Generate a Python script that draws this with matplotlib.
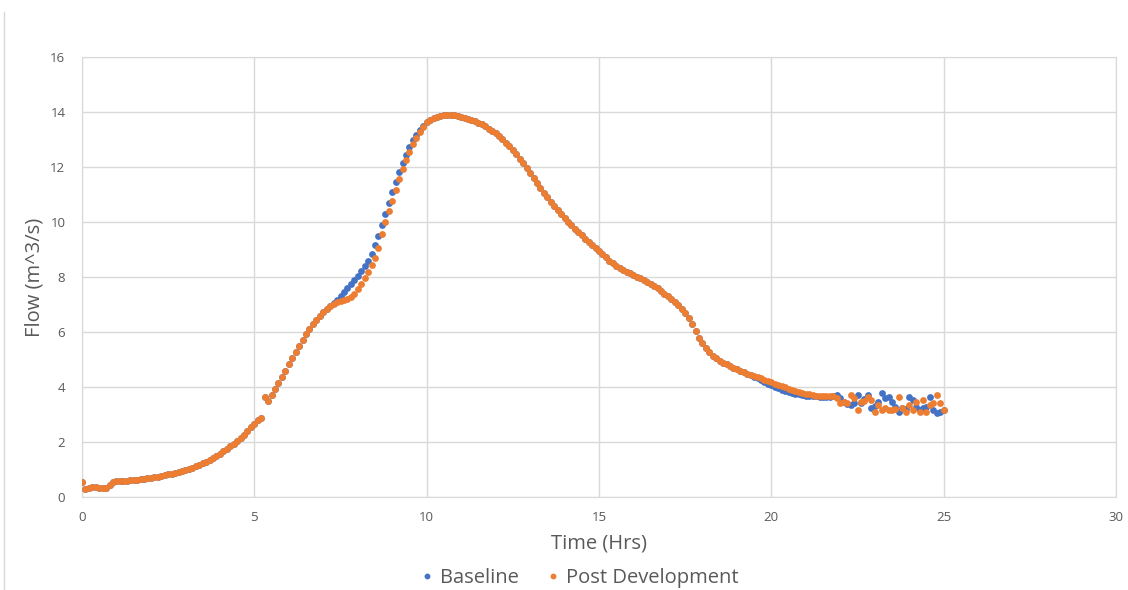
import numpy as np
import matplotlib
matplotlib.use("Agg")
import matplotlib.pyplot as plt
from matplotlib.lines import Line2D

# time axis: every 0.1 hr from 0 to 25
time_hrs = np.round(np.arange(0, 251) * 0.1, 1)

# 0.0 - 7.2 hr, both runs identical
shared_rise = [
    0.55, 0.30, 0.34, 0.35, 0.35, 0.34, 0.31, 0.31, 0.42, 0.53,
    0.58, 0.59, 0.60, 0.60, 0.61, 0.62, 0.63, 0.64, 0.66, 0.68,
    0.70, 0.72, 0.74, 0.76, 0.79, 0.82, 0.85, 0.88, 0.91, 0.94,
    0.98, 1.02, 1.06, 1.11, 1.16, 1.22, 1.28, 1.35, 1.42, 1.50,
    1.58, 1.66, 1.75, 1.84, 1.94, 2.04, 2.15, 2.27, 2.40, 2.53,
    2.67, 2.80, 2.86, 3.65, 3.50, 3.70, 3.92, 4.14, 4.37, 4.60,
    4.83, 5.05, 5.27, 5.49, 5.70, 5.91, 6.11, 6.29, 6.45, 6.60,
    6.74, 6.85, 6.94,
]

# 7.3 - 9.9 hr
baseline_mid = [
    7.05, 7.18, 7.32, 7.46, 7.60, 7.75, 7.90, 8.05, 8.22, 8.40,
    8.60, 8.85, 9.15, 9.50, 9.90, 10.30, 10.70, 11.08, 11.45, 11.82,
    12.15, 12.45, 12.73, 12.98, 13.18, 13.36, 13.50,
]
post_mid = [
    7.02, 7.08, 7.12, 7.16, 7.20, 7.26, 7.38, 7.55, 7.75, 7.95,
    8.20, 8.45, 8.70, 9.05, 9.55, 10.00, 10.40, 10.78, 11.15, 11.55,
    11.92, 12.25, 12.55, 12.82, 13.05, 13.28, 13.45,
]

# 10.0 - 19.4 hr, both runs identical
shared_recession = [
    13.62, 13.71, 13.78, 13.83, 13.86, 13.88, 13.89, 13.89, 13.88, 13.86,
    13.83, 13.79, 13.75, 13.71, 13.66, 13.61, 13.55, 13.48, 13.40, 13.31,
    13.22, 13.12, 13.01, 12.89, 12.76, 12.62, 12.46, 12.30, 12.13, 11.95,
    11.77, 11.60, 11.42, 11.25, 11.07, 10.90, 10.74, 10.58, 10.43, 10.28,
    10.14, 10.01, 9.88, 9.75, 9.63, 9.51, 9.39, 9.27, 9.16, 9.05,
    8.94, 8.82, 8.71, 8.60, 8.50, 8.41, 8.33, 8.26, 8.19, 8.13,
    8.07, 8.01, 7.95, 7.88, 7.82, 7.75, 7.67, 7.59, 7.50, 7.40,
    7.30, 7.19, 7.08, 6.97, 6.84, 6.68, 6.50, 6.28, 6.02, 5.80,
    5.60, 5.42, 5.27, 5.14, 5.04, 4.96, 4.89, 4.82, 4.76, 4.70,
    4.64, 4.59, 4.54, 4.49, 4.44,
]

# 19.5 - 25.0 hr
baseline_tail = [
    4.38, 4.32, 4.25, 4.19, 4.12, 4.06, 4.00, 3.95, 3.90, 3.86,
    3.82, 3.78, 3.75, 3.73, 3.71, 3.69, 3.68, 3.67, 3.66, 3.65,
    3.65, 3.65, 3.64, 3.66, 3.71, 3.60, 3.47, 3.40, 3.35, 3.41,
    3.71, 3.41, 3.55, 3.71, 3.22, 3.30, 3.45, 3.77, 3.60, 3.65,
    3.47, 3.29, 3.10, 3.22, 3.20, 3.65, 3.53, 3.29, 3.16, 3.25,
    3.29, 3.65, 3.16, 3.04, 3.10, 3.16,
]
post_tail = [
    4.40, 4.35, 4.31, 4.27, 4.22, 4.17, 4.12, 4.08, 4.03, 3.99,
    3.94, 3.90, 3.86, 3.82, 3.79, 3.76, 3.73, 3.71, 3.69, 3.68,
    3.67, 3.66, 3.66, 3.66, 3.59, 3.41, 3.45, 3.41, 3.71, 3.59,
    3.16, 3.47, 3.50, 3.65, 3.53, 3.10, 3.35, 3.16, 3.22, 3.16,
    3.16, 3.20, 3.65, 3.22, 3.10, 3.35, 3.16, 3.47, 3.10, 3.53,
    3.10, 3.35, 3.41, 3.71, 3.41, 3.16,
]

baseline = shared_rise + baseline_mid + shared_recession + baseline_tail
post_dev = shared_rise + post_mid + shared_recession + post_tail

BLUE = "#4472C4"
ORANGE = "#ED7D31"
GRID = "#D9D9D9"
TXT = "#595959"

plt.rcParams["font.family"] = ["Open Sans", "DejaVu Sans"]

fig = plt.figure(figsize=(11.28, 5.90), dpi=100)
ax = fig.add_axes([82 / 1128, 93 / 590, 1034 / 1128, 440 / 590])

ax.scatter(time_hrs, baseline, s=24, color=BLUE, linewidths=0, label="Baseline", zorder=3)
ax.scatter(time_hrs, post_dev, s=24, color=ORANGE, linewidths=0, label="Post Development", zorder=4)

ax.set_xlim(0, 30)
ax.set_ylim(0, 16)
ax.set_xticks(range(0, 31, 5))
ax.set_yticks(range(0, 17, 2))
ax.grid(True, color=GRID, linewidth=1)
ax.set_axisbelow(True)
for sp in ax.spines.values():
    sp.set_color(GRID)
ax.tick_params(length=0, labelsize=9.5, labelcolor=TXT, pad=10)
ax.tick_params(axis="y", pad=12)

ax.set_xlabel("Time (Hrs)", fontsize=14.5, color=TXT, labelpad=7)
ax.set_ylabel("Flow (m^3/s)", fontsize=14.5, color=TXT, labelpad=4)

handles = [
    Line2D([], [], marker="o", linestyle="none", markersize=3.2, color=BLUE, label="Baseline"),
    Line2D([], [], marker="o", linestyle="none", markersize=3.2, color=ORANGE, label="Post Development"),
]
leg = fig.legend(handles=handles, loc="center", bbox_to_anchor=(578 / 1128, 1 - 578 / 590),
                 ncol=2, frameon=False, fontsize=14.5, handletextpad=0.15, columnspacing=1.2,
                 handlelength=1.0)
for t in leg.get_texts():
    t.set_color(TXT)

# thin frame edge on the left of the chart area
fig.add_artist(Line2D([4 / 1128, 4 / 1128], [0, 1 - 12 / 590], color=GRID, linewidth=1))

fig.savefig("out.png", dpi=100)
